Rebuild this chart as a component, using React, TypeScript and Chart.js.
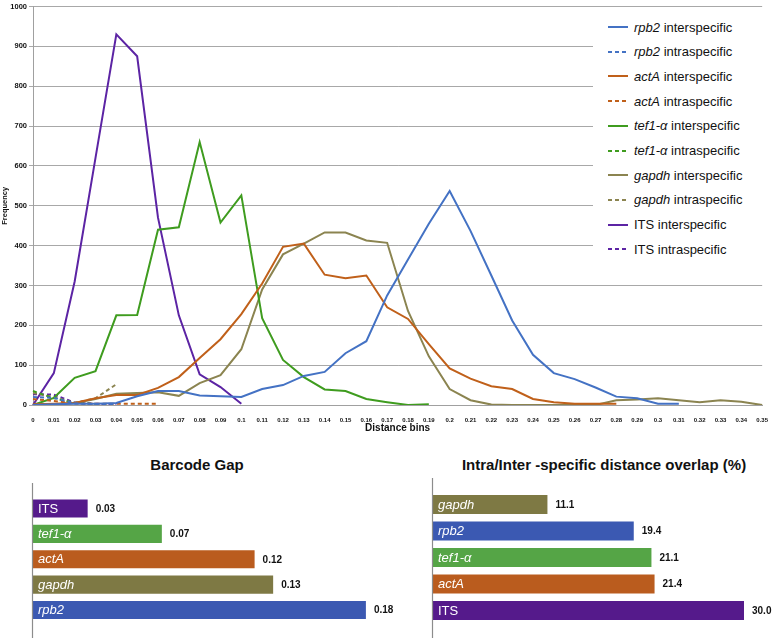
import React, { useEffect, useRef } from 'react';
import { Chart, registerables } from 'chart.js';

Chart.register(...registerables);

const FONT = '"Liberation Sans", Arial, Helvetica, sans-serif';
Chart.defaults.font.family = FONT;

// distance bins (x tick labels)
const bins = [
  '0', '0.01', '0.02', '0.03', '0.04', '0.05', '0.06', '0.07', '0.08', '0.09',
  '0.1', '0.11', '0.12', '0.13', '0.14', '0.15', '0.16', '0.17', '0.18', '0.19',
  '0.2', '0.21', '0.22', '0.23', '0.24', '0.25', '0.26', '0.27', '0.28', '0.29',
  '0.3', '0.31', '0.32', '0.33', '0.34', '0.35',
];

// frequency per bin
const rpb2Inter = [0, 2, 3, 3, 5, 22, 35, 35, 24, 22, 20, 40, 50, 73, 83, 130, 160, 275, 365, 455, 537, 437, 325, 212, 126, 80, 65, 44, 21, 17, 3, 3];
const rpb2Intra = [20, 18, 4, 2, 2];
const actAInter = [2, 3, 5, 17, 25, 25, 43, 70, 118, 165, 228, 305, 397, 405, 327, 318, 325, 245, 216, 153, 92, 66, 47, 40, 15, 7, 3, 3, 3];
const actAIntra = [15, 10, 4, 3, 3, 3, 3];
const tef1Inter = [0, 18, 68, 85, 225, 226, 440, 446, 660, 458, 526, 218, 113, 70, 39, 35, 15, 7, 0, 2];
const tef1Intra = [35, 17, 5, 3];
const gapdhInter = [0, 2, 5, 15, 28, 30, 32, 23, 55, 75, 140, 290, 378, 405, 433, 433, 413, 407, 236, 122, 40, 12, 1, 0, 0, 0, 0, 0, 12, 14, 17, 12, 7, 12, 8, 0];
const gapdhIntra = [30, 20, 5, 17, 52];
const itsInter = [0, 80, 310, 620, 930, 875, 470, 225, 77, 45, 3];
const itsIntra = [27, 26, 6, 3, 2];

const markers = ['rpb2', 'actA', 'tef1-α', 'gapdh', 'ITS'];
const lineColors = ['#4472c4', '#c0601a', '#3f9c1f', '#8b8450', '#5c24a4'];
const interData = [rpb2Inter, actAInter, tef1Inter, gapdhInter, itsInter];
const intraData = [rpb2Intra, actAIntra, tef1Intra, gapdhIntra, itsIntra];

// barcode gap chart
const gapMarkers = ['ITS', 'tef1-α', 'actA', 'gapdh', 'rpb2'];
const gapValues = [0.03, 0.07, 0.12, 0.13, 0.18];
const gapColors = ['#551a8b', '#55a546', '#ba5c1e', '#7e7944', '#3b59b2'];

// overlap chart
const overlapMarkers = ['gapdh', 'rpb2', 'tef1-α', 'actA', 'ITS'];
const overlapValues = [11.1, 19.4, 21.1, 21.4, 30.0];
const overlapColors = ['#7e7944', '#3b59b2', '#55a546', '#ba5c1e', '#551a8b'];

const plainNames = ['ITS'];

// names inside the bars, values after them, and a full-height axis line
const barText = {
  id: 'barText',
  afterDatasetsDraw(chart: any, _args: any, opts: any) {
    const ctx = chart.ctx;
    const meta = chart.getDatasetMeta(0);
    const values = chart.data.datasets[0].data;
    ctx.save();
    ctx.strokeStyle = '#8c8c8c';
    ctx.lineWidth = 1.2;
    ctx.beginPath();
    ctx.moveTo(chart.chartArea.left - 0.5, 0);
    ctx.lineTo(chart.chartArea.left - 0.5, chart.height);
    ctx.stroke();
    ctx.textBaseline = 'middle';
    ctx.textAlign = 'left';
    meta.data.forEach((bar: any, i: number) => {
      const name = chart.data.labels[i];
      ctx.font = (plainNames.includes(name) ? '' : 'italic ') + '13px ' + FONT;
      ctx.fillStyle = '#ffffff';
      ctx.fillText(name, bar.base + 5, bar.y + 0.5);
      ctx.font = 'bold 10px ' + FONT;
      ctx.fillStyle = '#111111';
      ctx.fillText(Number(values[i]).toFixed(opts.decimals), bar.x + 7, bar.y + 0.5);
    });
    ctx.restore();
  },
};

function barConfig(labels: string[], values: number[], colors: string[], max: number, decimals: number, padding: any): any {
  return {
    type: 'bar',
    data: {
      labels,
      datasets: [{
        data: values,
        backgroundColor: colors,
        borderColor: 'rgba(255,255,255,0.45)',
        borderWidth: 1,
        categoryPercentage: 1,
        barPercentage: 0.79,
      }],
    },
    options: {
      indexAxis: 'y',
      responsive: false,
      animation: false,
      layout: { padding },
      plugins: { legend: { display: false }, tooltip: { enabled: false }, barText: { decimals } },
      scales: {
        x: { display: false, min: 0, max },
        y: { display: false },
      },
    },
    plugins: [barText],
  };
}

const App = () => {
  const lineRef = useRef<HTMLCanvasElement | null>(null);
  const gapRef = useRef<HTMLCanvasElement | null>(null);
  const overlapRef = useRef<HTMLCanvasElement | null>(null);

  useEffect(() => {
    const datasets: any[] = [];
    markers.forEach((m, i) => {
      datasets.push({
        label: m + ' interspecific',
        data: interData[i],
        borderColor: lineColors[i],
        borderWidth: 2,
        pointRadius: 0,
        tension: 0,
      });
      datasets.push({
        label: m + ' intraspecific',
        data: intraData[i],
        borderColor: lineColors[i],
        borderWidth: 2,
        borderDash: [4, 3],
        pointRadius: 0,
        tension: 0,
      });
    });

    const lineChart = new Chart(lineRef.current!, {
      type: 'line',
      data: { labels: bins, datasets },
      options: {
        responsive: false,
        animation: false,
        layout: { padding: { top: 3, right: 7, left: 0, bottom: 0 } },
        plugins: { legend: { display: false }, tooltip: { enabled: false } },
        scales: {
          x: {
            afterFit: (s: any) => { s.height = 31; },
            grid: { display: false },
            border: { color: '#a0a0a0' },
            ticks: {
              autoSkip: false,
              maxRotation: 0,
              padding: 4,
              color: '#111',
              font: { size: 6, weight: 'bold' },
            },
            title: {
              display: true,
              text: 'Distance bins',
              color: '#111',
              font: { size: 10, weight: 'bold' },
              padding: { top: 0, bottom: 2 },
            },
          },
          y: {
            min: 0,
            max: 1000,
            afterFit: (s: any) => { s.width = 33; },
            grid: { color: '#a8a8a8', lineWidth: 1, tickLength: 4 },
            border: { color: '#a0a0a0' },
            ticks: {
              stepSize: 100,
              padding: 2,
              color: '#111',
              font: { size: 7.5, weight: 'bold' },
              callback: (v: any) => String(v),
            },
            title: {
              display: true,
              text: 'Frequency',
              color: '#111',
              font: { size: 7.5, weight: 'bold' },
              padding: 0,
            },
          },
        },
      },
    } as any);

    const gapChart = new Chart(gapRef.current!, barConfig(gapMarkers, gapValues, gapColors, 0.2, 2,
      { top: 12.8, bottom: 15.3, left: 33, right: 16 }));
    const overlapChart = new Chart(overlapRef.current!, barConfig(overlapMarkers, overlapValues, overlapColors, 30, 1,
      { top: 13.2, bottom: 14.3, left: 33, right: 27 }));

    return () => {
      lineChart.destroy();
      gapChart.destroy();
      overlapChart.destroy();
    };
  }, []);

  const legendItems: { name: string; kind: string; color: string; dashed: boolean }[] = [];
  markers.forEach((m, i) => {
    legendItems.push({ name: m, kind: ' interspecific', color: lineColors[i], dashed: false });
    legendItems.push({ name: m, kind: ' intraspecific', color: lineColors[i], dashed: true });
  });

  return (
    <div style={{ position: 'absolute', left: 0, top: 0, width: 772, height: 638, background: '#fff', overflow: 'hidden', fontFamily: FONT }}>
      <canvas ref={lineRef} width={772} height={436} style={{ position: 'absolute', left: 0, top: 0 }} />

      <div style={{ position: 'absolute', left: 593, top: 7, width: 179, height: 255, background: '#fff' }}>
        {legendItems.map((it, i) => (
          <div key={i} style={{ position: 'absolute', left: 15, top: 20 + i * 24.7 - 8, height: 16, display: 'flex', alignItems: 'center', whiteSpace: 'nowrap' }}>
            <svg width={20} height={4} style={{ marginRight: 6 }}>
              <line x1={0} y1={2} x2={20} y2={2} stroke={it.color} strokeWidth={2} strokeDasharray={it.dashed ? '4 3' : undefined} />
            </svg>
            <span style={{ fontSize: 13, color: '#111' }}>
              {plainNames.includes(it.name) ? it.name : <i>{it.name}</i>}{it.kind}
            </span>
          </div>
        ))}
      </div>

      <div style={{ position: 'absolute', left: 97, width: 200, top: 456, textAlign: 'center', fontSize: 15, fontWeight: 'bold', color: '#111' }}>
        Barcode Gap
      </div>
      <div style={{ position: 'absolute', left: 444, width: 320, top: 456, textAlign: 'center', fontSize: 15, fontWeight: 'bold', color: '#111', whiteSpace: 'nowrap' }}>
        Intra/Inter -specific distance overlap (%)
      </div>

      <canvas ref={gapRef} width={420} height={155} style={{ position: 'absolute', left: 0, top: 483 }} />
      <canvas ref={overlapRef} width={372} height={160} style={{ position: 'absolute', left: 400, top: 478 }} />
    </div>
  );
};

export default App;
